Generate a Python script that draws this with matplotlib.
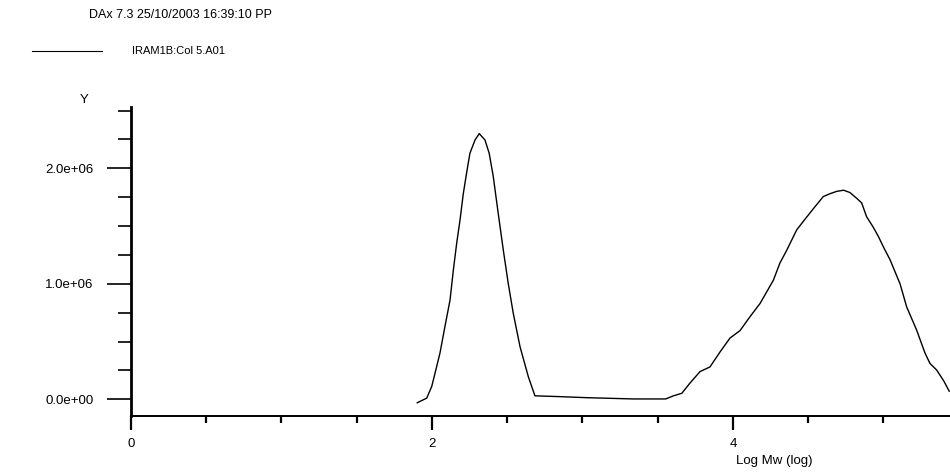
import matplotlib
matplotlib.use("Agg")
import matplotlib.pyplot as plt
from matplotlib.ticker import MultipleLocator, FixedLocator, FixedFormatter

plt.rcParams['font.family'] = ['Liberation Sans', 'DejaVu Sans']

title_text = "DAx 7.3 25/10/2003 16:39:10 PP"
series_name = "IRAM1B:Col 5.A01"
x_label = "Log Mw (log)"
y_label = "Y"

log_mw = [1.902, 1.930, 1.965, 1.998, 2.020, 2.053, 2.086, 2.120, 2.142, 2.164,
          2.186, 2.208, 2.230, 2.252, 2.286, 2.314, 2.352, 2.380, 2.407, 2.440,
          2.474, 2.507, 2.540, 2.585, 2.640, 2.684, 2.850, 3.028, 3.338, 3.553,
          3.604, 3.660, 3.714, 3.781, 3.847, 3.914, 3.980, 4.047, 4.113, 4.180,
          4.224, 4.268, 4.312, 4.357, 4.423, 4.467, 4.534, 4.600, 4.645, 4.689,
          4.735, 4.777, 4.822, 4.855, 4.888, 4.930, 4.966, 5.003, 5.043, 5.110,
          5.154, 5.220, 5.276, 5.309, 5.353, 5.400, 5.437]
signal_e6 = [-0.030, -0.012, 0.010, 0.110, 0.225, 0.400, 0.630, 0.860, 1.120, 1.350,
             1.550, 1.780, 1.960, 2.130, 2.245, 2.300, 2.245, 2.130, 1.930, 1.610,
             1.290, 1.000, 0.745, 0.455, 0.196, 0.030, 0.023, 0.014, 0.003, 0.003,
             0.030, 0.052, 0.140, 0.240, 0.280, 0.410, 0.530, 0.595, 0.715, 0.830,
             0.930, 1.030, 1.180, 1.290, 1.466, 1.540, 1.650, 1.755, 1.780, 1.800,
             1.810, 1.790, 1.740, 1.700, 1.580, 1.494, 1.410, 1.310, 1.210, 1.000,
             0.800, 0.600, 0.400, 0.310, 0.254, 0.160, 0.070]

y_major = [0.0, 1.0e6, 2.0e6]
y_major_labels = ["0.0e+00", "1.0e+06", "2.0e+06"]
x_major = [0, 2, 4]
x_major_labels = ["0", "2", "4"]

W, H = 950, 472
fig = plt.figure(figsize=(W / 100, H / 100), dpi=100)
ax = fig.add_axes([131 / W, (H - 416) / H, (W - 131) / W, (416 - 106.7) / H])

yvals = [v * 1e6 for v in signal_e6]
ax.plot(log_mw, yvals, color='black', lw=1.0, clip_on=False)

ax.set_xlim(0, 5.442)
ax.set_ylim(-0.1446e6, 2.533e6)

for s in ['top', 'right']:
    ax.spines[s].set_visible(False)
ax.spines['left'].set_linewidth(2.0)
ax.spines['bottom'].set_linewidth(1.4)

ax.yaxis.set_major_locator(FixedLocator(y_major))
ax.yaxis.set_major_formatter(FixedFormatter(y_major_labels))
ax.yaxis.set_minor_locator(MultipleLocator(0.25e6))
ax.xaxis.set_major_locator(FixedLocator(x_major))
ax.xaxis.set_major_formatter(FixedFormatter(x_major_labels))
ax.xaxis.set_minor_locator(MultipleLocator(0.5))

ax.tick_params(axis='y', which='major', length=17, width=1.2, direction='out', pad=10, labelsize=9.5)
ax.tick_params(axis='y', which='minor', length=9.5, width=1.2, direction='out')
ax.tick_params(axis='x', which='major', length=10, width=1.6, direction='out', pad=6, labelsize=9.5)
ax.tick_params(axis='x', which='minor', length=5, width=1.6, direction='out')

fig.text(89 / W, 1 - 15 / H, title_text, fontsize=9, va='center', ha='left')
fig.lines.append(plt.Line2D([32 / W, 102 / W], [1 - 51 / H, 1 - 51 / H],
                            transform=fig.transFigure, color='black', lw=0.8))
fig.text(132 / W, 1 - 51 / H, series_name, fontsize=8, va='center', ha='left')
fig.text(84 / W, 1 - 100 / H, y_label, fontsize=9.5, va='center', ha='center')
fig.text(736 / W, 1 - 461 / H, x_label, fontsize=9.5, va='center', ha='left')

fig.savefig("out.png", dpi=100)
